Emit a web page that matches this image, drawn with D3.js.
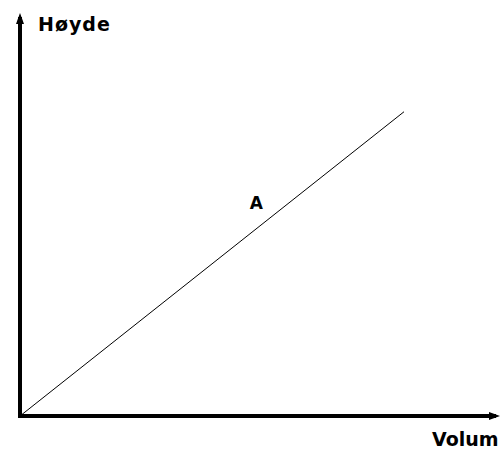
<!DOCTYPE html>
<html>
<head>
<meta charset="utf-8">
<script src="https://cdn.jsdelivr.net/npm/d3@7"></script>
<style>
  body { margin: 0; background: #fff; }
  svg { display: block; }
  text { font-family: "DejaVu Sans", sans-serif; font-weight: bold; fill: #000; }
</style>
</head>
<body>
<svg id="chart" width="503" height="451"></svg>
<script>
// values (no units on the axes)
const volum = [0, 8]
const hoyde = [0, 7.55]
const lineLabel = 'A'
const axisTitles = ['Volum', 'Høyde']

const svg = d3.select('svg#chart')
const origin = [20, 416]

const x = d3.scaleLinear().domain([0, 10]).range([origin[0], 500])
const y = d3.scaleLinear().domain([0, 10]).range([origin[1], 13])

const points = volum.map((v, i) => [v, hoyde[i]])

// the line
svg.append('path')
  .datum(points)
  .attr('fill', 'none')
  .attr('stroke', '#000')
  .attr('stroke-width', 1)
  .attr('d', d3.line().x(d => x(d[0])).y(d => y(d[1])))

// axes as thick lines with arrowheads
svg.append('line')
  .attr('x1', x(0)).attr('y1', y(0) + 2)
  .attr('x2', x(0)).attr('y2', y(10) + 4)
  .attr('stroke', '#000').attr('stroke-width', 4)

svg.append('line')
  .attr('x1', x(0) - 2).attr('y1', y(0))
  .attr('x2', x(10) - 4).attr('y2', y(0))
  .attr('stroke', '#000').attr('stroke-width', 4)

svg.append('path')
  .attr('d', `M${x(0)},${y(10)} L${x(0) - 4},${y(10) + 11} L${x(0) + 4},${y(10) + 11} Z`)
  .attr('fill', '#000')

svg.append('path')
  .attr('d', `M${x(10)},${y(0)} L${x(10) - 11},${y(0) - 4} L${x(10) - 11},${y(0) + 4} Z`)
  .attr('fill', '#000')

// titles
svg.append('text')
  .attr('x', x(0) + 18)
  .attr('y', 31)
  .style('font-size', '19px')
  .style('letter-spacing', '1px')
  .text(axisTitles[1])

svg.append('text')
  .attr('x', 432)
  .attr('y', 446)
  .style('font-size', '19px')
  .text(axisTitles[0])

// label on the line
svg.append('text')
  .attr('x', x(points[1][0] * 0.6) + 6)
  .attr('y', y(points[1][1] * 0.6) - 24)
  .attr('text-anchor', 'middle')
  .style('font-size', '17px')
  .text(lineLabel)
</script>
</body>
</html>
